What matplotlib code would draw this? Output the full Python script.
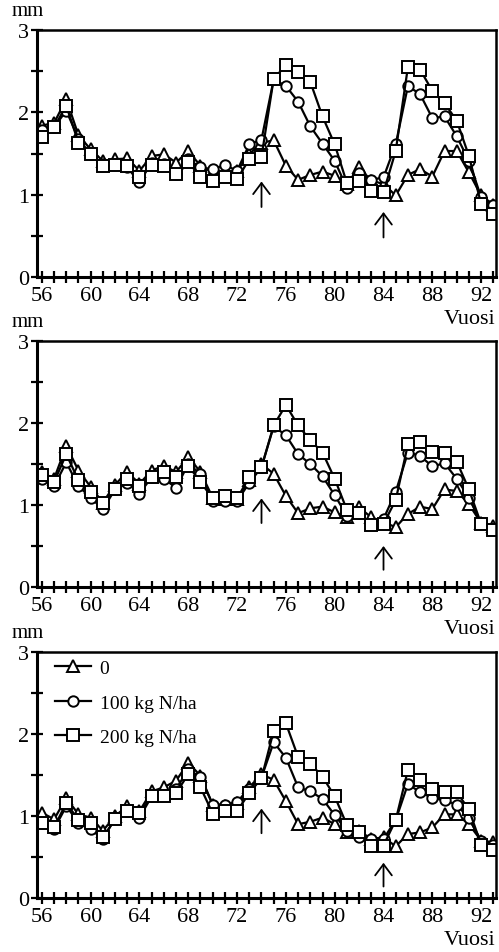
import matplotlib
matplotlib.use("Agg")
import matplotlib.pyplot as plt
from matplotlib.ticker import MultipleLocator, FuncFormatter

years = [56, 57, 58, 59, 60, 61, 62, 63, 64, 65, 66, 67, 68, 69, 70, 71, 72, 73, 74,
         75, 76, 77, 78, 79, 80, 81, 82, 83, 84, 85, 86, 87, 88, 89, 90, 91, 92, 93]
xtick_labels = [56, 60, 64, 68, 72, 76, 80, 84, 88, 92]
legend_labels = ["0", "100 kg N/ha", "200 kg N/ha"]
arrow_years = [74, 84]

# Panel 1
p1_n0 = [1.84, 1.87, 2.16, 1.72, 1.55, 1.41, 1.43, 1.44, 1.29, 1.47,
         1.49, 1.39, 1.53, 1.35, 1.27, 1.25, 1.29, 1.49, 1.63, 1.66,
         1.35, 1.18, 1.24, 1.28, 1.23, 1.13, 1.33, 1.17, 1.13, 0.99,
         1.24, 1.31, 1.22, 1.53, 1.53, 1.27, 0.99, 0.88]
p1_n100 = [1.78, 1.82, 2.02, 1.68, 1.49, 1.37, 1.37, 1.33, 1.15, 1.39,
           1.37, 1.25, 1.43, 1.33, 1.31, 1.36, 1.29, 1.61, 1.67, 2.40,
           2.32, 2.13, 1.83, 1.62, 1.41, 1.08, 1.26, 1.18, 1.21, 1.61,
           2.32, 2.22, 1.93, 1.95, 1.71, 1.41, 0.97, 0.87]
p1_n200 = [1.70, 1.82, 2.08, 1.63, 1.49, 1.35, 1.36, 1.35, 1.21, 1.36,
           1.35, 1.25, 1.40, 1.21, 1.17, 1.21, 1.19, 1.43, 1.46, 2.41,
           2.57, 2.49, 2.37, 1.95, 1.61, 1.14, 1.16, 1.04, 1.03, 1.53,
           2.55, 2.52, 2.26, 2.11, 1.90, 1.47, 0.89, 0.76]
p1_arrows = [(1.16, 0.85), (0.79, 0.48)]

# Panel 2
p2_n0 = [1.40, 1.32, 1.72, 1.42, 1.22, 1.03, 1.25, 1.40, 1.26, 1.42,
         1.48, 1.40, 1.59, 1.40, 1.09, 1.07, 1.07, 1.30, 1.50, 1.38,
         1.11, 0.90, 0.96, 0.98, 0.91, 0.85, 0.97, 0.85, 0.79, 0.73,
         0.89, 0.98, 0.95, 1.19, 1.17, 1.01, 0.78, 0.75]
p2_n100 = [1.32, 1.23, 1.52, 1.23, 1.09, 0.95, 1.19, 1.27, 1.14, 1.34,
           1.32, 1.21, 1.50, 1.38, 1.05, 1.05, 1.05, 1.27, 1.46, 1.96,
           1.85, 1.62, 1.50, 1.35, 1.12, 0.87, 0.90, 0.77, 0.83, 1.16,
           1.64, 1.60, 1.47, 1.51, 1.32, 1.09, 0.78, 0.71]
p2_n200 = [1.36, 1.28, 1.62, 1.30, 1.16, 1.02, 1.20, 1.32, 1.23, 1.34,
           1.40, 1.34, 1.48, 1.28, 1.08, 1.11, 1.08, 1.34, 1.46, 1.97,
           2.22, 1.97, 1.79, 1.64, 1.32, 0.94, 0.90, 0.76, 0.77, 1.06,
           1.74, 1.77, 1.65, 1.64, 1.53, 1.19, 0.77, 0.70]
p2_arrows = [(1.08, 0.78), (0.50, 0.21)]

# Panel 3
p3_n0 = [1.04, 0.96, 1.22, 1.02, 0.98, 0.82, 1.00, 1.12, 1.06, 1.30,
         1.35, 1.43, 1.65, 1.49, 1.14, 1.12, 1.16, 1.35, 1.51, 1.44,
         1.18, 0.90, 0.93, 0.98, 0.90, 0.80, 0.82, 0.72, 0.74, 0.63,
         0.78, 0.80, 0.86, 1.02, 1.02, 0.90, 0.70, 0.68]
p3_n100 = [0.92, 0.84, 1.12, 0.92, 0.84, 0.72, 0.97, 1.06, 0.98, 1.24,
           1.26, 1.33, 1.57, 1.47, 1.14, 1.14, 1.17, 1.33, 1.47, 1.90,
           1.71, 1.35, 1.30, 1.21, 1.01, 0.82, 0.75, 0.72, 0.72, 0.95,
           1.39, 1.29, 1.22, 1.19, 1.14, 0.97, 0.70, 0.65]
p3_n200 = [0.92, 0.86, 1.16, 0.95, 0.92, 0.74, 0.96, 1.06, 1.04, 1.24,
           1.24, 1.28, 1.51, 1.35, 1.03, 1.06, 1.06, 1.28, 1.46, 2.04,
           2.13, 1.72, 1.64, 1.48, 1.24, 0.89, 0.80, 0.64, 0.64, 0.95,
           1.56, 1.44, 1.33, 1.29, 1.29, 1.08, 0.65, 0.59]
p3_arrows = [(1.09, 0.79), (0.43, 0.14)]

panels = [(p1_n0, p1_n100, p1_n200, p1_arrows),
          (p2_n0, p2_n100, p2_n200, p2_arrows),
          (p3_n0, p3_n100, p3_n200, p3_arrows)]

SERIF = ["Liberation Serif", "DejaVu Serif"]
plt.rcParams["font.family"] = SERIF

W, H = 499, 953
fig = plt.figure(figsize=(W / 100, H / 100), dpi=100)

ax_left, ax_right = 37, 496
ax_tb = [(31, 278), (342, 588), (653, 899)]

for i, ((n0, n100, n200, arrows), (top, bot)) in enumerate(zip(panels, ax_tb)):
    ax = fig.add_axes([ax_left / W, 1 - bot / H, (ax_right - ax_left) / W, (bot - top) / H])
    ax.set_xlim(55.6, 93.22)
    ax.set_ylim(0, 3)
    kw = dict(color="black", lw=1.6, markerfacecolor="white",
              markeredgecolor="black", markeredgewidth=1.4)
    ax.plot(years, n0, marker="^", markersize=9, label=legend_labels[0], **kw)
    ax.plot(years, n100, marker="o", markersize=7.5, label=legend_labels[1], **kw)
    ax.plot(years, n200, marker="s", markersize=8, label=legend_labels[2], **kw)

    for yr, (tip, tail) in zip(arrow_years, arrows):
        ax.annotate("", xy=(yr, tip), xytext=(yr, tail),
                    arrowprops=dict(arrowstyle="->,head_length=0.4,head_width=0.3",
                                    lw=1.3, color="black", mutation_scale=20,
                                    shrinkA=0, shrinkB=0))

    for s in ax.spines.values():
        s.set_linewidth(1.8)
    ax.spines["left"].set_linewidth(2.2)
    ax.spines["bottom"].set_linewidth(2.2)

    ax.xaxis.set_major_locator(MultipleLocator(1))
    ax.xaxis.set_major_formatter(FuncFormatter(
        lambda v, p: str(int(round(v))) if int(round(v)) in xtick_labels else ""))
    ax.yaxis.set_major_locator(MultipleLocator(0.5))
    ax.yaxis.set_major_formatter(FuncFormatter(
        lambda v, p: str(int(round(v))) if abs(v - round(v)) < 1e-6 else ""))
    ax.tick_params(axis="x", direction="inout", length=9, width=1.6,
                   labelsize=16, pad=2, top=False)
    ax.tick_params(axis="y", direction="inout", length=9, width=1.6,
                   labelsize=16, pad=1, right=False)

    fig.text(12 / W, 1 - (top - 19) / H, "mm", fontsize=15, ha="left", va="center")
    fig.text(496 / W, 1 - (bot + 42) / H, "Vuosi", fontsize=16, ha="right", va="center")

    if i == 2:
        ax.legend(loc="upper left", bbox_to_anchor=(0.039, 0.97), frameon=False,
                  fontsize=14, borderpad=0, borderaxespad=0, handlelength=1.85,
                  handletextpad=0.45, labelspacing=0.87)

fig.savefig("out.png", dpi=100)
